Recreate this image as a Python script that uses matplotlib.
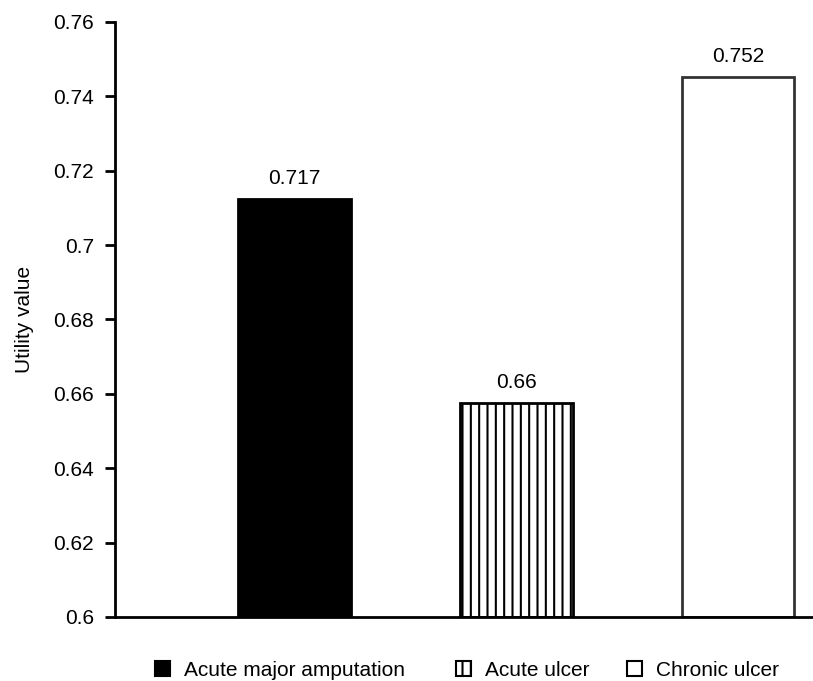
import matplotlib.pyplot as plt
from matplotlib.patches import Patch

plt.rcParams['font.family'] = ['Liberation Sans', 'DejaVu Sans']
plt.rcParams['hatch.linewidth'] = 1.5

# Données
categories = ["Acute major amputation", "Acute ulcer", "Chronic ulcer"]
hauteurs = [0.7124, 0.6575, 0.7452]          # hauteur dessinée des barres
etiquettes = ["0.717", "0.66", "0.752"]       # valeurs affichées au-dessus
yticks = [0.6, 0.62, 0.64, 0.66, 0.68, 0.7, 0.72, 0.74, 0.76]
ytick_labels = ["0.6", "0.62", "0.64", "0.66", "0.68", "0.7", "0.72", "0.74", "0.76"]

couleurs = ["black", "white", "white"]
bords = ["black", "black", "#333333"]
hachures = ["", "||", ""]

fig = plt.figure(figsize=(8.13, 6.81), dpi=100)
ax = fig.add_axes([0.1415, 0.094, 0.8585, 0.8737])

x = list(range(len(categories)))
barres = ax.bar(x, [h - 0.6 for h in hauteurs], bottom=0.6, width=0.505,
                color=couleurs, edgecolor=bords, linewidth=2)
for b, h in zip(barres, hachures):
    if h:
        b.set_hatch(h)

for xi, h, txt in zip(x, hauteurs, etiquettes):
    ax.text(xi, h + 0.003, txt, ha='center', va='bottom', fontsize=15)

ax.set_xlim(-0.8086, 2.336)
ax.set_ylim(0.6, 0.76)
ax.set_yticks(yticks)
ax.set_yticklabels(ytick_labels, fontsize=15)
ax.set_xticks([])
ax.set_ylabel("Utility value", fontsize=15, labelpad=14)

ax.spines['top'].set_visible(False)
ax.spines['right'].set_visible(False)
ax.spines['left'].set_linewidth(2)
ax.spines['bottom'].set_linewidth(2)
ax.tick_params(axis='y', length=7.2, width=2, pad=8)

# Légende en bas : une entrée par position
pos_legende = [155, 456, 627]
for cat, c, h, px in zip(categories, couleurs, hachures, pos_legende):
    p = Patch(facecolor=c, edgecolor="black", hatch=h, linewidth=1.5)
    fig.legend([p], [cat], loc='center left', bbox_to_anchor=(px / 813, 0.016),
               frameon=False, fontsize=15, handlelength=0.72, handleheight=0.72,
               handletextpad=0.67, borderpad=0, borderaxespad=0)

plt.savefig("out.png", dpi=100)
plt.close()
